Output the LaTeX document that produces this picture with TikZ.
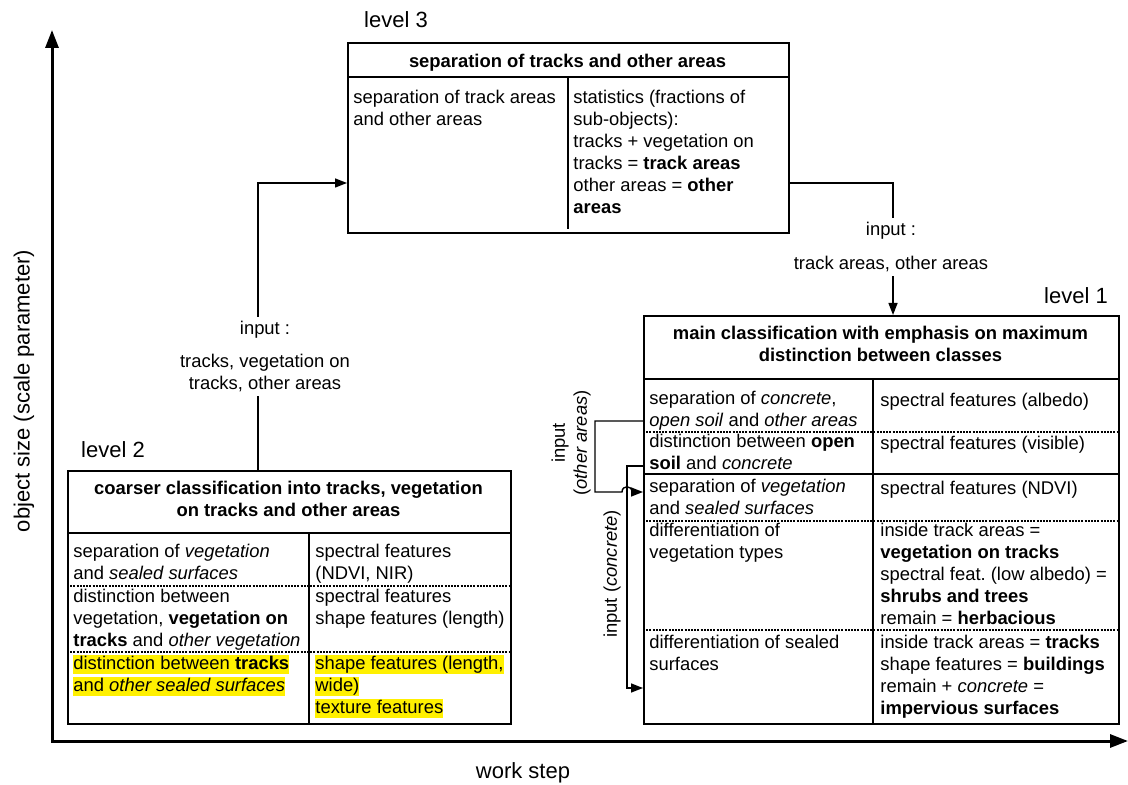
\documentclass[tikz,border=0pt]{standalone}
\usepackage{fontspec}
\setmainfont{Liberation Sans}
\usepackage{xcolor}
\usetikzlibrary{arrows.meta}
\frenchspacing

\definecolor{hlyellow}{RGB}{255,240,0}
\newcommand{\cellfont}{\fontsize{9.2}{11}\selectfont}
\newcommand{\lvlfont}{\fontsize{11}{13}\selectfont}
\newcommand{\hly}[1]{{\setlength{\fboxsep}{0pt}\colorbox{hlyellow}{\rule[-2.4pt]{0pt}{9.6pt}#1}}}

\tikzset{
  tbl/.style={draw,line width=1pt,inner sep=0pt,anchor=north west},
  cell/.style={anchor=north west,inner sep=0pt,yshift=7.2pt,align=left,font=\cellfont,
    execute at begin node={\rule{0pt}{7.7pt}}},
  head/.style={cell,anchor=north,align=center,font=\cellfont\bfseries},
  inlbl/.style={cell,anchor=north,align=center,inner ysep=2pt,yshift=2pt},
  lvl/.style={font=\lvlfont,inner sep=0pt},
  inner line/.style={line width=0.75pt},
  row line/.style={line width=0.7pt,dash pattern=on 1pt off 0.6pt},
  conn/.style={line width=0.7pt,-{Triangle[length=6pt,width=4.5pt]}},
  axis/.style={line width=1.5pt,{Triangle[length=9pt,width=6.5pt]}-{Triangle[length=9pt,width=6.5pt]}}
}

\begin{document}
\begin{tikzpicture}[x=0.5pt,y=-0.5pt]
\useasboundingbox (0,0) rectangle (1128,785);
% axes
\coordinate (orig) at (52,741);
\coordinate (ytop) at (52,30);
\coordinate (xend) at (1128,741);
\draw[axis] (ytop) -- (orig) -- (xend);
\node[lvl,rotate=90] (ylab) at (24,391) {object size (scale parameter)};
\node[lvl] (xlab) at (523,773) {work step};

% level 3
\node[lvl] (lab3) at (396,20) {level 3};
\node[tbl,minimum width=220.5pt,minimum height=95pt] (lvlthree) at (347,42) {};
\draw[inner line] (347,77) -- (788,77) (568,77) -- (568,229);
\node[head] (h3) at (567.5,66) {separation of tracks and other areas};
\node[cell] (c3a) at (353,104) {separation of track areas\\and other areas};
\node[cell] (c3b) at (573,104) {statistics (fractions of\\sub-objects):\\tracks + vegetation on\\tracks = \textbf{track areas}\\other areas = \textbf{other}\\\textbf{areas}};

% level 1
\node[lvl] (lab1) at (1076,296) {level 1};
\node[tbl,minimum width=237.5pt,minimum height=204pt] (lvlone) at (643,315) {};
\draw[inner line] (643,379) -- (1118,379) (873,379) -- (873,723) (643,474) -- (1118,474);
\draw[row line] (643,432) -- (1118,432) (643,521) -- (1118,521) (643,630) -- (1118,630);
\node[head] (h1) at (880.5,340) {main classification with emphasis on maximum\\distinction between classes};
\node[cell] (c1a) at (649,405) {separation of \textit{concrete},\\\textit{open soil} and \textit{other areas}};
\node[cell] (c1b) at (880,405) {spectral features (albedo)};
\node[cell] (c1c) at (649,448) {distinction between \textbf{open}\\\textbf{soil} and \textit{concrete}};
\node[cell] (c1d) at (880,448) {spectral features (visible)};
\node[cell] (c1e) at (649,493) {separation of \textit{vegetation}\\and \textit{sealed surfaces}};
\node[cell] (c1f) at (880,493) {spectral features (NDVI)};
\node[cell] (c1g) at (649,537) {differentiation of\\vegetation types};
\node[cell] (c1h) at (880,537) {inside track areas =\\\textbf{vegetation on tracks}\\spectral feat. (low albedo) =\\\textbf{shrubs and trees}\\remain = \textbf{herbacious}};
\node[cell] (c1i) at (649,649) {differentiation of sealed\\surfaces};
\node[cell] (c1j) at (880,649) {inside track areas = \textbf{tracks}\\shape features = \textbf{buildings}\\remain + \textit{concrete} =\\\textbf{impervious surfaces}};

% level 2
\node[lvl] (lab2) at (113,450) {level 2};
\node[tbl,minimum width=221.5pt,minimum height=126.5pt] (lvltwo) at (67,470) {};
\draw[inner line] (67,533) -- (510,533) (309,533) -- (309,723);
\draw[row line] (67,586) -- (510,586) (67,652) -- (510,652);
\node[head] (h2) at (288.5,495) {coarser classification into tracks, vegetation\\on tracks and other areas};
\node[cell] (c2a) at (73,558) {separation of \textit{vegetation}\\and \textit{sealed surfaces}};
\node[cell] (c2b) at (315,558) {spectral features\\(NDVI, NIR)};
\node[cell] (c2c) at (73,603) {distinction between\\vegetation, \textbf{vegetation on}\\\textbf{tracks} and \textit{other vegetation}};
\node[cell] (c2d) at (315,603) {spectral features\\shape features (length)};
\node[cell] (c2e) at (73,669) {\hly{distinction between \textbf{tracks}}\\\hly{and \textit{other sealed surfaces}}};
\node[cell] (c2f) at (315,669) {\hly{shape features (length,}\\\hly{wide)}\\\hly{texture features}};

% level 2 -> level 3
\coordinate (l2out) at (258,470);
\coordinate (l3in) at (347,183);
\node[inlbl] (inleft) at (265,335) {input :\\[5.5pt]tracks, vegetation on\\tracks, other areas};
\draw[line width=0.7pt] (l2out) -- (l2out |- inleft.south);
\draw[conn] (l2out |- inleft.north) |- (l3in);

% level 3 -> level 1
\coordinate (l3out) at (788,183);
\coordinate (l1in) at (893,315);
\node[inlbl] (inright) at (891,236) {input :\\[6pt]track areas, other areas};
\draw[line width=0.7pt] (l3out) -| (l1in |- inright.north);
\draw[conn] (l1in |- inright.south) -- (l1in);

% inputs inside level 1
\coordinate (oaout) at (643,421);
\coordinate (oain) at (643,492);
\coordinate (coout) at (643,466);
\coordinate (coin) at (643,688);
\draw[conn] (coout) -- (627,466) -- (627,688) -- (coin);
\draw[conn] (oaout) -- (595,421) -- (595,492) -- (622,492) .. controls (622,485) and (632,485) .. (632,492) -- (oain);
\node[font=\cellfont,rotate=90,align=center,inner sep=0pt] (oalbl) at (571,443) {input\\(\textit{other areas})};
\node[font=\cellfont,rotate=90,inner sep=0pt] (colbl) at (612,574) {input (\textit{concrete})};
\end{tikzpicture}
\end{document}
